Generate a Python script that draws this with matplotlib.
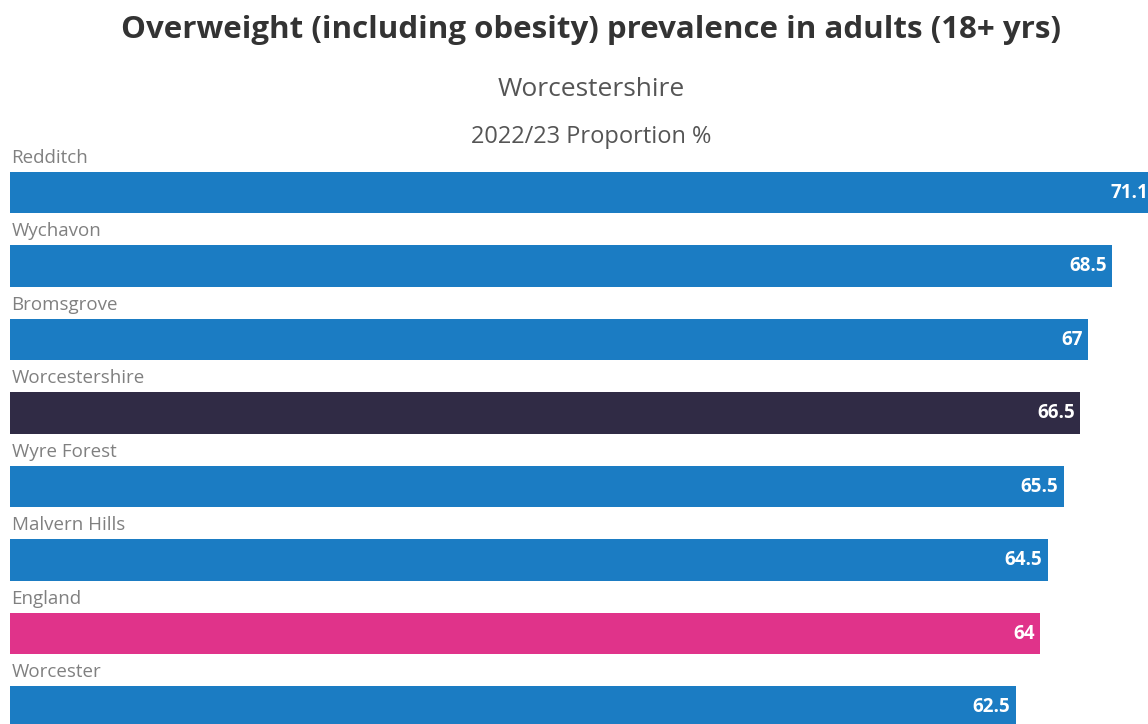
import matplotlib.pyplot as plt

areas = ['Redditch', 'Wychavon', 'Bromsgrove', 'Worcestershire', 'Wyre Forest',
         'Malvern Hills', 'England', 'Worcester']
values = [71.1, 68.5, 67, 66.5, 65.5, 64.5, 64, 62.5]
value_labels = ['71.1', '68.5', '67', '66.5', '65.5', '64.5', '64', '62.5']

blue = '#1b7cc3'
colors = {'Worcestershire': '#302b45', 'England': '#e0338a'}
bar_colors = [colors.get(a, blue) for a in areas]

plt.rcParams['font.family'] = ['Open Sans', 'DejaVu Sans']

fig = plt.figure(figsize=(11.48, 7.24), dpi=100)
ax = fig.add_axes([10 / 1148, 0, 1138 / 1148, 1])

pos = list(range(len(areas)))
ax.barh(pos, values, height=0.56, color=bar_colors)
ax.set_xlim(0, 1138 / 16.09)
ax.set_ylim(7.231, -2.619)
ax.axis('off')

# px per unit ~16.09, label sits ~5px inside the bar end
for i, (a, v, lab) in enumerate(zip(areas, values, value_labels)):
    ax.text(0.1, i - 0.47, a, ha='left', va='center', fontsize=13.5, color='#808080')
    ax.text(v - 0.33, i, lab, ha='right', va='center', fontsize=13.5,
            fontweight='bold', color='white', clip_on=False)

cx = 591 / 1148
fig.text(cx, 1 - 30 / 724, 'Overweight (including obesity) prevalence in adults (18+ yrs)',
         ha='center', va='center', fontsize=22.5, fontweight='bold', color='#333333')
fig.text(cx, 1 - 90 / 724, 'Worcestershire', ha='center', va='center',
         fontsize=19, color='#555555')
fig.text(cx, 1 - 137 / 724, '2022/23 Proportion %', ha='center', va='center',
         fontsize=17, color='#555555')

fig.savefig('out.png', dpi=100)
